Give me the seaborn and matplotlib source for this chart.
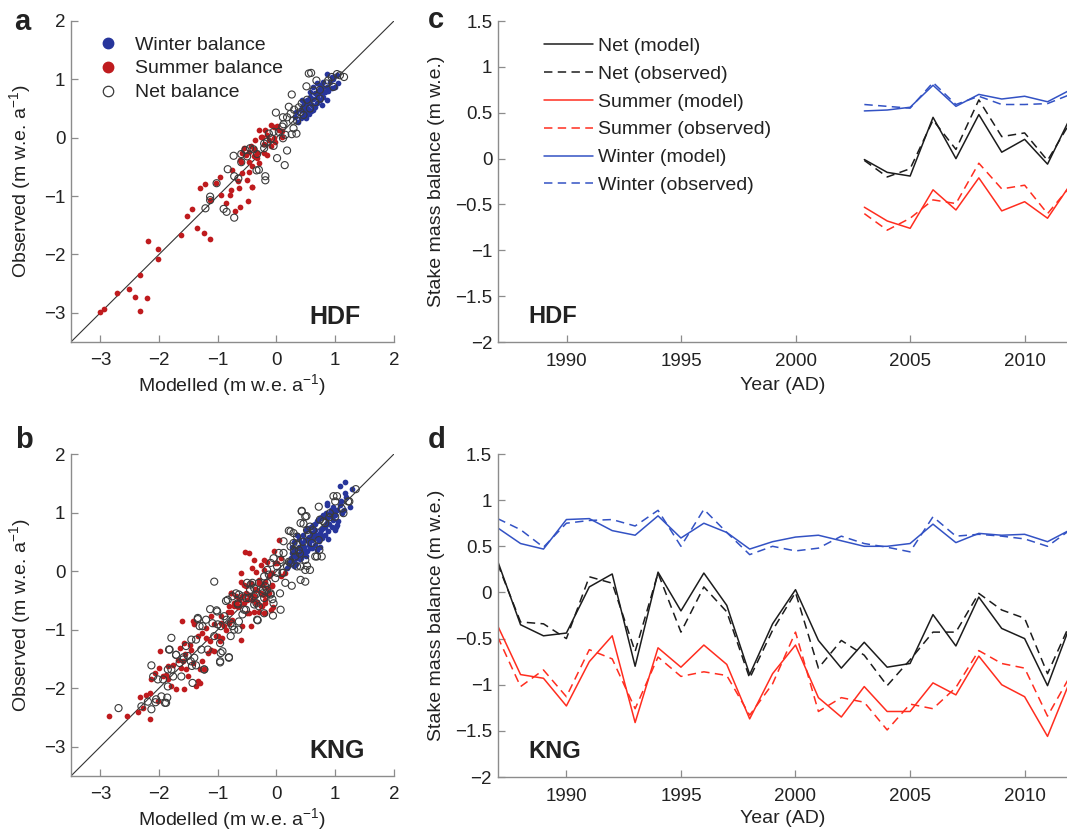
import numpy as np
import pandas as pd
import matplotlib
matplotlib.use("Agg")
import matplotlib.pyplot as plt
import seaborn as sns
from matplotlib.lines import Line2D

# ---------------- data: panel a (HDF scatter) ----------------
hdf_win_mod = [0.86,0.94,1.03,1.05,1.00,0.80,0.74,0.69,0.63,0.72,0.77,0.83,0.66,0.57,0.52,0.46,0.43,0.41,0.49,0.53,
               0.60,0.69,0.74,0.80,0.86,0.77,0.63,0.55,0.46,0.41,0.36,0.51,0.43,0.57,0.69,0.74,0.86,0.91,0.97,0.34,
               0.32,0.55,0.62,0.70,0.78,0.50,0.66,0.88,0.95,0.58,0.45]
hdf_win_obs = [1.09,1.04,1.07,0.93,0.87,0.95,0.90,0.93,0.87,0.81,0.76,0.78,0.76,0.70,0.64,0.59,0.53,0.47,0.44,0.50,
               0.56,0.59,0.64,0.70,0.64,0.56,0.47,0.41,0.39,0.33,0.27,0.33,0.64,0.78,0.70,0.84,0.87,0.95,1.01,0.44,
               0.36,0.60,0.66,0.75,0.86,0.55,0.52,0.80,0.85,0.45,0.47]
hdf_sum_mod = [-3.00,-2.93,-2.72,-2.52,-2.41,-2.33,-2.33,-2.21,-2.18,-2.02,-2.01,-1.63,-1.53,-1.44,-1.35,-1.30,-1.24,-1.22,
               -1.14,-1.13,-1.03,-0.97,-0.95,-0.86,-0.79,-0.77,-0.75,-0.70,-0.66,-0.64,-0.62,-0.62,-0.61,-0.58,-0.58,
               -0.52,-0.50,-0.48,-0.47,-0.47,-0.47,-0.42,-0.41,-0.41,-0.38,-0.38,-0.33,-0.30,-0.30,-0.27,-0.25,-0.21,
               -0.19,-0.16,-0.16,-0.13,-0.10,-0.09,-0.05,-0.05,0.01,0.04,0.10,0.10,-0.55,-0.44,-0.33,-0.21,-0.02,-0.37]
hdf_sum_obs = [-2.99,-2.93,-2.66,-2.59,-2.73,-2.36,-2.97,-2.75,-1.77,-1.90,-2.08,-1.66,-1.34,-1.23,-1.55,-0.87,-1.64,-0.79,
               -1.73,-1.06,-0.77,-0.68,-0.99,-1.12,-0.98,-0.89,-0.55,-1.26,-0.75,-0.86,-1.19,-0.38,-0.41,-0.61,-0.27,
               -0.30,-0.72,-1.09,-0.58,-0.41,-0.24,-0.85,-0.84,-0.49,-0.32,-0.20,-0.27,-0.44,0.14,0.02,0.02,-0.11,
               0.14,0.05,-0.30,-0.04,0.22,-0.14,-0.01,0.19,0.20,0.13,0.02,0.12,-0.18,-0.15,-0.34,-0.27,-0.07,-0.04]
hdf_net_mod = [-1.21,-1.13,-1.13,-0.90,-0.85,-0.72,-0.83,-0.72,-0.65,-1.02,-0.73,-0.60,-0.60,-0.53,-0.45,-0.39,-0.34,-0.30,
               -0.19,-0.19,-0.21,-0.16,-0.09,-0.05,0.01,0.14,0.18,0.15,0.26,0.34,0.10,0.12,0.18,0.11,-0.01,0.24,0.28,
               0.35,0.30,0.26,0.38,0.43,0.52,0.55,0.59,0.51,0.63,0.68,0.74,0.85,0.88,0.94,1.03,1.08,1.15,0.97,0.46,
               0.41,0.21,-0.13,-0.33,-0.50,-0.21,0.11,0.04,0.29,-0.05,0.66,0.74,0.57]
hdf_net_obs = [-1.21,-1.01,-1.07,-1.22,-1.27,-1.37,-0.54,-0.66,-0.70,-0.78,-0.31,-0.28,-0.42,-0.21,-0.18,-0.20,-0.56,-0.55,
               -0.66,-0.73,-0.10,-0.07,-0.01,-0.14,-0.35,-0.47,-0.22,0.05,0.06,0.07,0.19,0.23,0.35,0.35,0.43,0.41,0.29,
               0.29,0.48,0.74,0.52,0.59,0.65,1.10,1.11,0.88,0.81,0.98,0.82,0.93,0.98,1.04,1.09,1.07,1.04,0.87,0.39,
               0.44,0.53,0.07,-0.28,-0.32,-0.18,-0.01,0.10,0.16,0.10,0.61,0.67,0.50]

# ---------------- data: panel b (KNG scatter) ----------------
kng_win_mod = [1.17,1.08,1.28,1.17,1.19,0.86,0.97,1.03,0.91,0.80,0.74,0.69,0.86,0.97,1.03,1.00,0.88,0.80,0.74,0.66,
               0.60,0.55,0.49,0.43,0.38,0.32,0.26,0.24,0.21,0.29,0.35,0.43,0.52,0.57,0.66,0.72,0.77,0.60,0.46,0.41,
               0.32,0.26,0.69,0.74,0.35,0.52,0.63,0.86,0.94,1.00,0.86,1.08,1.11,0.18,0.22,0.30,1.25,1.05,0.95,0.82,
               0.70,0.55,0.40,
               0.30,0.38,0.45,0.50,0.58,0.65,0.70,0.78,0.85,0.92,0.28,0.35,0.48,0.55,0.62,0.68,0.75,0.82,0.90,1.00,
               1.10,1.15,0.25,0.33,0.42,0.50,0.60,0.78,0.88,1.02]
kng_win_obs = [1.53,1.45,1.41,1.33,1.27,1.16,1.10,1.05,0.99,0.96,0.90,0.85,0.82,0.88,0.79,0.70,0.68,0.73,0.65,0.70,
               0.65,0.59,0.53,0.48,0.42,0.36,0.31,0.22,0.14,0.16,0.22,0.28,0.34,0.39,0.45,0.51,0.56,0.53,0.42,0.34,
               0.25,0.42,0.36,0.42,0.62,0.73,0.78,0.90,0.93,1.02,1.13,1.13,0.99,0.05,0.10,0.08,1.10,0.85,0.75,0.62,
               0.55,0.45,0.20,
               0.50,0.55,0.62,0.70,0.75,0.80,0.88,0.92,1.00,1.05,0.40,0.30,0.35,0.50,0.58,0.62,0.70,0.75,0.80,0.95,
               1.20,1.05,0.18,0.12,0.22,0.25,0.40,0.60,0.55,0.75]
kng_sum_mod = [-2.85,-2.55,-2.35,-2.15,-2.27,-2.33,-2.23,-2.16,-2.13,-2.07,-2.00,-1.93,-1.88,-1.85,-1.79,-1.71,-1.57,-1.76,
               -1.68,-1.62,-1.59,-1.54,-1.51,-1.43,-1.37,-1.34,-1.31,-1.26,-1.23,-1.65,-1.57,-1.48,-1.98,-1.61,-1.40,
               -1.34,-1.26,-1.20,-1.14,-1.12,-1.06,-1.00,-0.97,-0.92,-0.86,-0.78,-0.72,-0.69,-0.64,-0.58,-0.52,-0.47,
               -0.41,-0.35,-0.30,-0.24,-0.19,-0.13,-0.07,-0.61,-0.58,-0.47,-0.44,-0.55,-0.24,-0.06,-0.95,-0.81,-0.75,
               -1.12,-1.06,
               -0.61,-0.47,-0.27,-0.16,-0.13,-0.07,-0.05,0.01,0.07,0.15,0.04,-0.38,-0.35,-0.30,-0.21,-0.19,-0.44,-0.50,
               -0.83,-0.89,-0.78,-1.43,-1.31,-1.17,-1.03,-0.53,-0.41,-0.35,-0.21,-0.10,-0.19,-0.30,-2.02,-1.85,-1.55,
               -1.45,-1.20,-0.95,-0.66,-0.36,
               -0.78,-0.69,-0.55,-0.33,-0.27,-0.19,-0.10,-0.21,-0.38,-0.50,-0.64,-0.72,-0.81,-0.16,-0.07,-0.27,-0.52,
               -0.61,-0.38,0.07,-0.02,-0.21]
kng_sum_obs = [-2.48,-2.48,-2.41,-2.52,-2.34,-2.15,-2.11,-2.08,-1.85,-1.74,-1.65,-1.80,-1.77,-1.85,-1.97,-2.02,-2.02,-1.60,
               -1.51,-1.65,-1.54,-1.68,-1.80,-1.57,-1.97,-1.88,-1.68,-1.54,-1.68,-1.31,-1.22,-1.26,-1.37,-0.86,-0.91,
               -1.11,-1.06,-0.97,-1.20,-1.34,-1.37,-1.11,-1.20,-1.14,-1.00,-0.69,-0.60,-0.55,-0.49,-0.43,-0.38,-0.40,
               -0.49,-0.55,-0.69,-0.60,-0.49,-0.38,-0.26,-1.17,-0.94,-0.72,-0.94,-0.23,-0.23,-0.62,-0.77,-0.89,-0.83,
               -0.77,-0.91,
               -0.03,0.31,0.11,0.16,-0.09,-0.03,0.34,0.14,-0.09,-0.03,0.53,-0.43,-0.32,-0.20,-0.40,-0.72,-0.20,-0.49,
               -0.69,-0.94,-0.38,-0.86,-1.91,-1.40,-1.11,0.33,0.05,-0.01,0.02,-0.03,-0.18,-0.15,-2.22,-1.62,-1.42,
               -1.35,-1.15,-0.88,-0.62,-0.30,
               -0.38,-0.43,-0.55,-0.52,-0.60,-0.55,-0.66,-0.72,-0.69,-0.72,-0.60,-0.55,-0.60,-0.29,-0.23,-0.38,-0.26,
               -0.18,0.19,0.22,0.14,0.19]
kng_net_mod = [-2.69,-2.30,-2.13,-2.10,-2.05,-1.90,-1.86,-1.79,-1.79,-1.82,-1.71,-1.59,-1.51,-1.43,-1.40,-1.34,-1.31,-1.26,
               -1.23,-1.17,-1.13,-1.01,-0.96,-0.92,-1.06,-0.86,-0.81,-0.72,-0.69,-0.66,-0.65,-0.50,-0.45,-0.41,-0.34,
               -0.32,-0.23,-0.19,-0.13,-0.06,-0.07,-0.05,-0.02,0.06,0.11,0.15,0.18,0.26,0.21,0.29,0.35,0.43,0.46,0.51,
               0.66,0.69,0.77,0.73,0.49,0.52,0.97,1.03,1.11,1.22,1.35,1.14,0.83,0.72,0.60,0.38,0.32,0.24,0.12,0.01,
               -0.16,-0.38,-0.55,-0.78,-0.95,-1.06,-1.28,-1.46,-1.62,-1.85,-1.96,-2.13,0.29,0.57,0.74,0.91,1.00,0.41,
               0.24,
               -0.58,-0.47,-0.35,-0.24,-0.16,-0.10,-0.30,-0.21,-0.33,-0.64,-1.00,-1.09,-1.02,-1.20,-1.34,-1.45,-1.37,
               -1.54,-1.71,-1.83,-1.85,-1.93,-2.02,-1.76,-1.65,-1.58,-1.44,-1.37,-1.23,-0.96,-0.81,-0.95,-0.96,-0.78,
               -0.75,-0.58,-0.85,-1.88,-2.06,-2.19,
               1.24,1.00,0.72,0.43,0.49,0.41,0.52,0.24,0.12,0.04,-0.10,0.01,-0.16,-0.21,-0.30,-0.38,-0.44,-0.52,-0.64,
               -0.75,-0.83,-0.89,-0.38,-0.21,-0.10,0.10,0.41,0.49,0.57,0.49,0.35,0.21,0.07,-0.05,0.07,-0.52,-0.66,
               0.35,0.45,0.55,0.62,0.80,0.90,0.30,0.40]
kng_net_obs = [-2.34,-2.31,-1.61,-1.80,-2.19,-2.25,-2.16,-1.68,-1.14,-1.34,-1.43,-1.51,-1.45,-1.91,-1.48,-0.82,-0.94,-0.94,
               -1.68,-1.34,-0.65,-0.69,-1.56,-1.37,-0.18,-0.51,-1.48,-1.00,-0.38,-0.57,-1.00,-0.20,-0.32,-0.20,-0.55,
               -0.84,-0.32,-0.26,-0.06,-0.76,-0.48,0.22,-0.12,-0.38,-0.03,-0.20,0.08,-0.25,0.69,0.65,0.59,1.03,0.81,
               0.94,0.25,0.25,0.25,0.36,0.02,0.09,1.28,1.28,1.07,1.19,1.40,0.99,0.82,0.53,0.48,0.36,0.25,0.42,0.31,
               -0.03,-0.20,-0.43,-0.66,-0.89,-0.94,-1.11,-1.34,-1.54,-1.80,-1.97,-2.14,-2.36,0.48,0.76,0.88,0.99,0.93,
               0.08,0.14,
               -0.43,-0.46,-0.40,-0.38,-0.32,-0.40,-0.60,-0.72,-0.83,-0.86,-0.91,-0.89,-0.67,-0.83,-0.80,-1.17,-1.17,
               -1.28,-1.43,-1.34,-1.68,-1.85,-1.85,-1.80,-1.57,-1.47,-1.62,-1.61,-1.68,-1.54,-1.47,-1.40,-1.23,-1.11,
               -0.94,-0.74,-0.83,-2.25,-2.24,-2.23,
               1.19,1.19,1.10,1.02,0.93,0.82,0.70,0.68,0.51,0.31,0.14,0.08,0.02,-0.09,-0.20,-0.29,-0.23,-0.46,-0.40,
               -0.43,-0.49,-0.77,-0.57,-0.46,-0.38,-0.03,-0.15,-0.18,0.02,0.19,0.08,0.16,0.19,-0.55,-0.66,-0.66,-0.55,
               0.45,0.50,0.62,0.70,0.85,0.92,0.35,0.30]

# ---------------- data: panel c (HDF time series) ----------------
hdf_years = [2003, 2004, 2005, 2006, 2007, 2008, 2009, 2010, 2011, 2012]
hdf_ts_net_model = [-0.01, -0.15, -0.19, 0.45, 0.00, 0.48, 0.07, 0.21, -0.06, 0.45]
hdf_ts_net_obs = [-0.02, -0.20, -0.11, 0.42, 0.10, 0.64, 0.24, 0.28, -0.02, 0.40]
hdf_ts_sum_model = [-0.53, -0.68, -0.76, -0.34, -0.56, -0.21, -0.57, -0.47, -0.65, -0.28]
hdf_ts_sum_obs = [-0.60, -0.78, -0.65, -0.45, -0.49, -0.05, -0.33, -0.29, -0.60, -0.30]
hdf_ts_win_model = [0.52, 0.53, 0.56, 0.80, 0.57, 0.70, 0.65, 0.68, 0.62, 0.75]
hdf_ts_win_obs = [0.59, 0.57, 0.55, 0.83, 0.59, 0.68, 0.59, 0.59, 0.60, 0.70]

# ---------------- data: panel d (KNG time series) ----------------
kng_years = list(range(1987, 2013))
kng_ts_win_model = [0.70,0.53,0.47,0.79,0.80,0.67,0.62,0.83,0.59,0.75,0.65,0.47,0.55,0.60,0.62,0.56,0.50,0.50,0.53,0.74,
                    0.54,0.64,0.62,0.63,0.55,0.68]
kng_ts_win_obs = [0.80,0.68,0.49,0.75,0.78,0.79,0.72,0.89,0.50,0.90,0.65,0.41,0.50,0.45,0.48,0.61,0.53,0.49,0.44,0.82,
                  0.61,0.63,0.61,0.58,0.50,0.68]
kng_ts_net_model = [0.34,-0.35,-0.47,-0.44,0.06,0.20,-0.80,0.22,-0.20,0.21,-0.14,-0.89,-0.34,0.03,-0.52,-0.82,-0.54,
                    -0.81,-0.77,-0.24,-0.58,-0.05,-0.39,-0.50,-1.01,-0.35]
kng_ts_net_obs = [0.31,-0.32,-0.34,-0.50,0.17,0.10,-0.64,0.21,-0.43,0.06,-0.21,-0.93,-0.41,0.00,-0.82,-0.52,-0.68,
                  -1.01,-0.73,-0.43,-0.43,-0.01,-0.19,-0.28,-0.88,-0.33]
kng_ts_sum_model = [-0.36,-0.89,-0.93,-1.23,-0.75,-0.47,-1.41,-0.60,-0.81,-0.57,-0.78,-1.37,-0.88,-0.57,-1.14,-1.35,
                    -1.02,-1.29,-1.29,-0.98,-1.11,-0.69,-1.00,-1.13,-1.56,-0.95]
kng_ts_sum_obs = [-0.48,-1.02,-0.84,-1.13,-0.62,-0.72,-1.26,-0.70,-0.91,-0.86,-0.90,-1.33,-0.99,-0.43,-1.29,-1.14,
                  -1.19,-1.49,-1.21,-1.26,-1.03,-0.63,-0.77,-0.82,-1.34,-0.90]

# ---------------- labels / ticks ----------------
scatter_ticks = [-3, -2, -1, 0, 1, 2]
scatter_ticklabels = ["\u22123", "\u22122", "\u22121", "0", "1", "2"]
ts_yticks = [-2, -1.5, -1, -0.5, 0, 0.5, 1, 1.5]
ts_yticklabels = ["\u22122", "\u22121.5", "\u22121", "\u22120.5", "0", "0.5", "1", "1.5"]
ts_xticks = [1990, 1995, 2000, 2005, 2010]
ts_xticklabels = ["1990", "1995", "2000", "2005", "2010"]
legend_scatter = ["Winter balance", "Summer balance", "Net balance"]
legend_ts = ["Net (model)", "Net (observed)", "Summer (model)", "Summer (observed)",
             "Winter (model)", "Winter (observed)"]

# ---------------- style ----------------
sns.set_theme(style="white")
plt.rcParams["font.family"] = ["Liberation Sans", "DejaVu Sans"]
plt.rcParams["mathtext.default"] = "regular"

BLUE_DOT = "#27359b"
RED_DOT = "#bf1b1e"
NET_EDGE = "#3a3a3a"
LINE_K = "#1c1c1c"
LINE_R = "#ff2d1f"
LINE_B = "#3352c4"
SPINE = "#8c8c8c"
TXT = "#222222"

fig = plt.figure(figsize=(10.67, 8.32), dpi=100)
fig.patch.set_facecolor("white")

ax_a = fig.add_axes([0.0665, 0.589, 0.3027, 0.3858])
ax_b = fig.add_axes([0.0665, 0.0673, 0.3027, 0.387])
ax_c = fig.add_axes([0.4667, 0.5889, 0.5333, 0.3858])
ax_d = fig.add_axes([0.4664, 0.0661, 0.5336, 0.3882])


def style_axes(ax, xpad, ypad):
    for s in ["top", "right"]:
        ax.spines[s].set_visible(False)
    for s in ["left", "bottom"]:
        ax.spines[s].set_color(SPINE)
        ax.spines[s].set_linewidth(1.0)
    ax.tick_params(axis="both", which="major", direction="in", length=5, width=0.9,
                   color=SPINE, labelsize=13.5, labelcolor=TXT, bottom=True, left=True,
                   top=False, right=False)
    ax.tick_params(axis="x", pad=xpad)
    ax.tick_params(axis="y", pad=ypad)
    ax.grid(False)
    ax.set_facecolor("white")


def scatter_panel(ax, wm, wo, sm, so, nm, no, name):
    ax.axline((0, 0), slope=1, color="#333333", lw=0.8, zorder=1)
    sns.scatterplot(x=wm, y=wo, ax=ax, color=BLUE_DOT, s=17, linewidth=0, legend=False, zorder=2)
    sns.scatterplot(x=sm, y=so, ax=ax, color=RED_DOT, s=17, linewidth=0, legend=False, zorder=3)
    sns.scatterplot(x=nm, y=no, ax=ax, facecolor="none", edgecolor=NET_EDGE, s=26, linewidth=0.8,
                    legend=False, zorder=4)
    ax.set_xlim(-3.5, 2)
    ax.set_ylim(-3.5, 2)
    ax.set_xticks(scatter_ticks)
    ax.set_xticklabels(scatter_ticklabels)
    ax.set_yticks(scatter_ticks)
    ax.set_yticklabels(scatter_ticklabels)
    style_axes(ax, 7, 4)
    ax.set_xlabel("Modelled (m w.e. a$^{\u22121}$)", fontsize=14, color=TXT)
    ax.set_ylabel("Observed (m w.e. a$^{\u22121}$)", fontsize=14, color=TXT)
    ax.xaxis.set_label_coords(0.5, -0.095)
    ax.yaxis.set_label_coords(-0.118, 0.5)
    ax.text(0.737, 0.055, name, transform=ax.transAxes, fontsize=18, fontweight="bold",
            color=TXT, ha="left", va="baseline")


scatter_panel(ax_a, hdf_win_mod, hdf_win_obs, hdf_sum_mod, hdf_sum_obs, hdf_net_mod, hdf_net_obs, "HDF")
scatter_panel(ax_b, kng_win_mod, kng_win_obs, kng_sum_mod, kng_sum_obs, kng_net_mod, kng_net_obs, "KNG")

leg_handles = [
    Line2D([], [], ls="", marker="o", markersize=7.5, markerfacecolor=BLUE_DOT, markeredgecolor=BLUE_DOT),
    Line2D([], [], ls="", marker="o", markersize=7.5, markerfacecolor=RED_DOT, markeredgecolor=RED_DOT),
    Line2D([], [], ls="", marker="o", markersize=7.5, markerfacecolor="none", markeredgecolor=NET_EDGE,
           markeredgewidth=0.9),
]
leg = ax_a.legend(leg_handles, legend_scatter, loc="upper left", bbox_to_anchor=(0.084, 0.953),
                  frameon=False, fontsize=14, handlelength=1.0, handletextpad=0.9, labelspacing=0.32,
                  borderpad=0, borderaxespad=0)
for t in leg.get_texts():
    t.set_color(TXT)

DASH = (0, (5.5, 3.5))


def ts_panel(ax, years, nm, no, sm, so, wm, wo, name):
    series = [(nm, LINE_K, "-"), (no, LINE_K, DASH), (sm, LINE_R, "-"), (so, LINE_R, DASH),
              (wm, LINE_B, "-"), (wo, LINE_B, DASH)]
    for vals, col, ls in series:
        sns.lineplot(x=years, y=vals, ax=ax, color=col, linestyle=ls, linewidth=1.1, legend=False)
    ax.set_xlim(1987, 2011.85)
    ax.set_ylim(-2, 1.5)
    ax.set_xticks(ts_xticks)
    ax.set_xticklabels(ts_xticklabels)
    ax.set_yticks(ts_yticks)
    ax.set_yticklabels(ts_yticklabels)
    style_axes(ax, 8, 4)
    ax.set_xlabel("Year (AD)", fontsize=14, color=TXT)
    ax.set_ylabel("Stake mass balance (m w.e.)", fontsize=14, color=TXT)
    ax.yaxis.set_label_coords(-0.093, 0.5)
    ax.text(0.054, 0.058, name, transform=ax.transAxes, fontsize=17, fontweight="bold",
            color=TXT, ha="left", va="baseline")


ts_panel(ax_c, hdf_years, hdf_ts_net_model, hdf_ts_net_obs, hdf_ts_sum_model, hdf_ts_sum_obs,
         hdf_ts_win_model, hdf_ts_win_obs, "HDF")
ts_panel(ax_d, kng_years, kng_ts_net_model, kng_ts_net_obs, kng_ts_sum_model, kng_ts_sum_obs,
         kng_ts_win_model, kng_ts_win_obs, "KNG")
ax_c.xaxis.set_label_coords(0.5, -0.108)
ax_d.xaxis.set_label_coords(0.5, -0.102)

ts_handles = [
    Line2D([], [], color=LINE_K, lw=1.1, ls="-"),
    Line2D([], [], color=LINE_K, lw=1.1, ls=DASH),
    Line2D([], [], color=LINE_R, lw=1.1, ls="-"),
    Line2D([], [], color=LINE_R, lw=1.1, ls=DASH),
    Line2D([], [], color=LINE_B, lw=1.1, ls="-"),
    Line2D([], [], color=LINE_B, lw=1.1, ls=DASH),
]
leg2 = ax_c.legend(ts_handles, legend_ts, loc="upper left", bbox_to_anchor=(0.081, 0.95),
                   frameon=False, fontsize=14, handlelength=2.5,
                   handletextpad=0.26, labelspacing=0.53, borderpad=0, borderaxespad=0)
for t in leg2.get_texts():
    t.set_color(TXT)

# panel letters
fig.text(14 / 1067, 1 - 30 / 832, "a", fontsize=21, fontweight="bold", color=TXT, va="baseline")
fig.text(15 / 1067, 1 - 448 / 832, "b", fontsize=21, fontweight="bold", color=TXT, va="baseline")
fig.text(428 / 1067, 1 - 28 / 832, "c", fontsize=21, fontweight="bold", color=TXT, va="baseline")
fig.text(428 / 1067, 1 - 448 / 832, "d", fontsize=21, fontweight="bold", color=TXT, va="baseline")

fig.savefig("out.png", dpi=100, facecolor="white")
